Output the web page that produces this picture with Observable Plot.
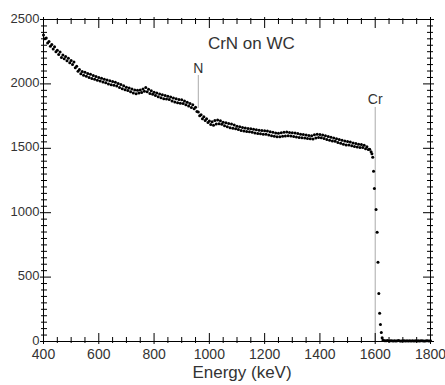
<!DOCTYPE html>
<html><head><meta charset="utf-8">
<script src="https://cdn.jsdelivr.net/npm/d3@7"></script>
<script src="https://cdn.jsdelivr.net/npm/@observablehq/plot@0.6"></script>
<style>body{margin:0;background:#fff}</style>
</head><body><div id="chart"></div>
<script>
// Spectrum plateau (keV, counts)
const curveEnergy = [
400,405,410,415,420,425,430,435,440,445,
450,455,460,465,470,475,480,485,490,495,
500,505,510,515,520,525,530,535,540,545,
550,555,560,565,570,575,580,585,590,595,
600,605,610,615,620,625,630,635,640,645,
650,655,660,665,670,675,680,685,690,695,
700,705,710,715,720,725,730,735,740,745,
750,755,760,765,770,775,780,785,790,795,
800,805,810,815,820,825,830,835,840,845,
850,855,860,865,870,875,880,885,890,895,
900,905,910,915,920,925,930,935,940,945,
950,955,960,965,970,975,980,985,990,995,
1000,1005,1010,1015,1020,1025,1030,1035,1040,1045,
1050,1055,1060,1065,1070,1075,1080,1085,1090,1095,
1100,1105,1110,1115,1120,1125,1130,1135,1140,1145,
1150,1155,1160,1165,1170,1175,1180,1185,1190,1195,
1200,1205,1210,1215,1220,1225,1230,1235,1240,1245,
1250,1255,1260,1265,1270,1275,1280,1285,1290,1295,
1300,1305,1310,1315,1320,1325,1330,1335,1340,1345,
1350,1355,1360,1365,1370,1375,1380,1385,1390,1395,
1400,1405,1410,1415,1420,1425,1430,1435,1440,1445,
1450,1455,1460,1465,1470,1475,1480,1485,1490,1495,
1500,1505,1510,1515,1520,1525,1530,1535,1540,1545,
1550,1555,1560,1565,1570,1575,1580,1585];
const curveCounts = [
2380,2350,2356,2318,2330,2292,2305,2270,2288,2250,
2262,2228,2248,2205,2224,2196,2212,2180,2200,2165,
2182,2150,2170,2126,2138,2098,2112,2078,2096,2068,
2090,2060,2080,2050,2074,2042,2066,2036,2058,2028,
2050,2022,2044,2014,2036,2008,2030,2000,2024,1994,
2018,1990,2012,1984,2004,1972,1996,1962,1986,1954,
1974,1948,1968,1940,1960,1930,1952,1924,1950,1930,
1952,1934,1960,1942,1972,1940,1958,1926,1946,1920,
1936,1910,1930,1900,1922,1892,1916,1884,1910,1882,
1904,1878,1898,1868,1890,1860,1884,1854,1878,1850,
1876,1848,1868,1838,1858,1828,1848,1816,1838,1808,
1818,1786,1782,1752,1760,1730,1744,1716,1730,1700,
1712,1684,1706,1678,1716,1688,1720,1690,1714,1686,
1702,1676,1698,1668,1692,1660,1688,1656,1680,1652,
1672,1646,1668,1638,1662,1634,1658,1630,1654,1628,
1652,1624,1648,1618,1644,1614,1640,1612,1638,1610,
1636,1610,1634,1604,1628,1598,1624,1594,1618,1590,
1616,1590,1620,1594,1624,1596,1626,1598,1622,1596,
1620,1592,1618,1588,1614,1584,1610,1582,1608,1580,
1604,1576,1600,1574,1598,1572,1606,1580,1610,1584,
1608,1582,1604,1576,1598,1568,1592,1562,1586,1556,
1580,1554,1574,1546,1568,1540,1562,1532,1556,1526,
1552,1526,1548,1520,1542,1514,1538,1510,1532,1506,
1530,1506,1524,1496,1512,1490,1492,1474];
// Cr surface edge
const edgeEnergy = [1588,1591,1594,1597,1603,1607,1610,1613,1616,1619,1622,1625,1628];
const edgeCounts = [1457,1431,1322,1188,1025,849,616,373,220,132,70,30,12];
// Background above the edge
const tailEnergy = [1630,1635,1640,1645,1650,1655,1660,1665,1670,1675,1680,1685,1690,1695,1700,1705,1710,1715,1720,1725,1730,1735,1740,1745,1750,1755,1760,1765,1770,1775,1780,1785,1790,1795,1800];
const tailCounts = [8,6,5,7,4,6,5,3,6,4,5,7,4,3,5,6,4,5,3,6,4,5,4,6,3,5,4,6,5,3,4,5,6,4,5];

// Ticks
const xMajor = [400,600,800,1000,1200,1400,1600,1800];
const xMinor = [450,500,550,650,700,750,850,900,950,1050,1100,1150,1250,1300,1350,1450,1500,1550,1650,1700,1750];
const yMajor = [0,500,1000,1500,2000,2500];
const yMinor = [50,100,150,200,250,300,350,400,450,550,600,650,700,750,800,850,900,950,1050,1100,1150,1200,1250,1300,1350,1400,1450,1550,1600,1650,1700,1750,1800,1850,1900,1950,2050,2100,2150,2200,2250,2300,2350,2400,2450];

// Annotations
const peakNames = ["N","Cr"];
const peakEnergy = [960,1600];
const peakLineTop = [2065,1817];
const peakLineBottom = [1810,0];
const peakLabelY = [2120,1879];
const titleText = "CrN on WC";
const titleX = 1152;
const titleY = 2314;
const xLabel = "Energy (keV)";

const xDomain = [400, 1800], yDomain = [0, 2500];
const W = 445, H = 385, mL = 43, mR = 15, mT = 19, mB = 44;
const minorIn = 4, majorIn = 8, minorOut = 2, majorOut = 3;

const data = [
  ...curveEnergy.map((e,i)=>({e, c: curveCounts[i]})),
  ...edgeEnergy.map((e,i)=>({e, c: edgeCounts[i]})),
  ...tailEnergy.map((e,i)=>({e, c: tailCounts[i]}))
];
const peaks = peakNames.map((n,i)=>({n, e: peakEnergy[i], y1: peakLineBottom[i], y2: peakLineTop[i], ly: peakLabelY[i]}));

const fmt = d => `${d}`;
const txt = "#333";
const id = d => d;
const tk = {tickPadding: 0, fill: "none", stroke: "#000", label: null};

function tickSet(vals, inLen, outLen) {
  return [
    // short outward stubs
    Plot.axisX(vals.x, {anchor: "bottom", tickSize: outLen, ...tk}),
    Plot.axisX(vals.x, {anchor: "top", tickSize: outLen, ...tk}),
    Plot.axisY(vals.y, {anchor: "left", tickSize: outLen, ...tk}),
    Plot.axisY(vals.y, {anchor: "right", tickSize: outLen, ...tk}),
    // inward ticks (shifted inside the frame with positive insets)
    Plot.axisX(vals.x, {anchor: "bottom", tickSize: inLen, insetBottom: inLen, ...tk}),
    Plot.axisX(vals.x, {anchor: "top", tickSize: inLen, insetTop: inLen, ...tk}),
    Plot.axisY(vals.y, {anchor: "left", tickSize: inLen, insetLeft: inLen, ...tk}),
    Plot.axisY(vals.y, {anchor: "right", tickSize: inLen, insetRight: inLen, ...tk})
  ];
}

const chart = Plot.plot({
  width: W, height: H,
  marginLeft: mL, marginRight: mR, marginTop: mT, marginBottom: mB,
  style: {fontFamily: "'Liberation Sans', Arial, sans-serif", background: "#fff", color: "#000"},
  x: {domain: xDomain},
  y: {domain: yDomain},
  marks: [
    Plot.ruleX(peaks, {x: "e", y1: "y1", y2: "y2", stroke: "#aaa", strokeWidth: 1}),
    Plot.text(peaks, {x: "e", y: "ly", text: "n", fontSize: 14, fill: txt}),
    Plot.text([titleText], {x: () => titleX, y: () => titleY, text: id, fontSize: 17, fill: txt}),
    ...tickSet({x: xMinor, y: yMinor}, minorIn, minorOut),
    ...tickSet({x: xMajor, y: yMajor}, majorIn, majorOut),
    Plot.axisX(xMajor, {anchor: "bottom", tickSize: 0, tickPadding: 8, fontSize: 14, fill: txt, label: null, tickFormat: fmt}),
    Plot.axisY(yMajor, {anchor: "left", tickSize: 0, tickPadding: 4, dy: -1, fontSize: 13, fill: txt, label: null, tickFormat: fmt}),
    Plot.text([xLabel], {frameAnchor: "bottom", dy: 36, dx: 5, text: id, fontSize: 17, fill: txt}),
    Plot.frame({stroke: "#000"}),
    Plot.dot(data, {x: "e", y: "c", r: 1.5, fill: "#000", stroke: "none"})
  ]
});
document.getElementById("chart").append(chart);
</script>
</body></html>
